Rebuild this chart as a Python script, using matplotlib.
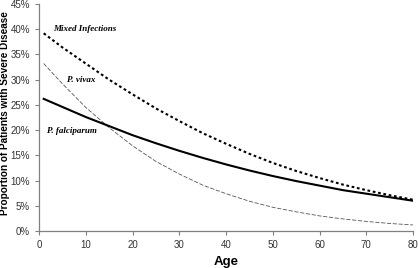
import numpy as np
import matplotlib.pyplot as plt
from matplotlib.ticker import FuncFormatter

# ages (every 5 years)
ages = [1, 5, 10, 15, 20, 25, 30, 35, 40, 45, 50, 55, 60, 65, 70, 75, 80]
# proportion (%) with severe disease
falciparum = [26.2, 24.6, 22.6, 20.8, 19.0, 17.4, 15.9, 14.5, 13.2, 12.0, 10.9, 9.9, 9.0, 8.1, 7.4, 6.7, 6.0]
vivax = [33.2, 29.2, 24.5, 20.5, 16.9, 13.8, 11.3, 9.1, 7.4, 5.9, 4.7, 3.8, 3.0, 2.4, 1.9, 1.5, 1.2]
mixed = [39.2, 36.4, 33.2, 30.0, 27.1, 24.3, 21.8, 19.4, 17.3, 15.3, 13.5, 11.9, 10.5, 9.2, 8.1, 7.1, 6.2]

plt.rcParams['font.family'] = ['Liberation Sans', 'DejaVu Sans']

fig = plt.figure(figsize=(4.18, 2.68), dpi=100)
ax = fig.add_axes([0.0933, 0.138, 0.895, 0.847])

ax.plot(ages, mixed, color='black', lw=1.5, linestyle=(0, (1.3, 1.3)))
ax.plot(ages, vivax, color='#555555', lw=0.6, linestyle=(0, (5, 2)))
ax.plot(ages, falciparum, color='black', lw=1.5)

ax.set_xlim(0, 80)
ax.set_ylim(0, 45)
ax.set_xticks(range(0, 81, 10))
ax.set_yticks(range(0, 46, 5))
ax.yaxis.set_major_formatter(FuncFormatter(lambda v, p: '%d%%' % v))

for s in ['top', 'right']:
    ax.spines[s].set_visible(False)
for s in ['left', 'bottom']:
    ax.spines[s].set_color('#808080')
    ax.spines[s].set_linewidth(0.9)
ax.tick_params(axis='both', labelsize=7, colors='#333333', length=3, width=0.8, direction='out')
ax.tick_params(axis='both', color='#808080')

ax.set_xlabel('Age', fontsize=9.5, fontweight='bold', labelpad=4)
ax.set_ylabel('Proportion of Patients with Severe Disease', fontsize=7.2, fontweight='bold')
ax.yaxis.set_label_coords(-0.077, 0.52)

lab = dict(family='Liberation Serif', style='italic', fontweight='bold', fontsize=6.5, va='center')
ax.text(3.0, 40.1, 'Mixed Infections', **lab)
ax.text(6.0, 30.0, 'P. vivax', **lab)
ax.text(1.7, 19.8, 'P. falciparum', **lab)

fig.savefig('out.png', dpi=100)
